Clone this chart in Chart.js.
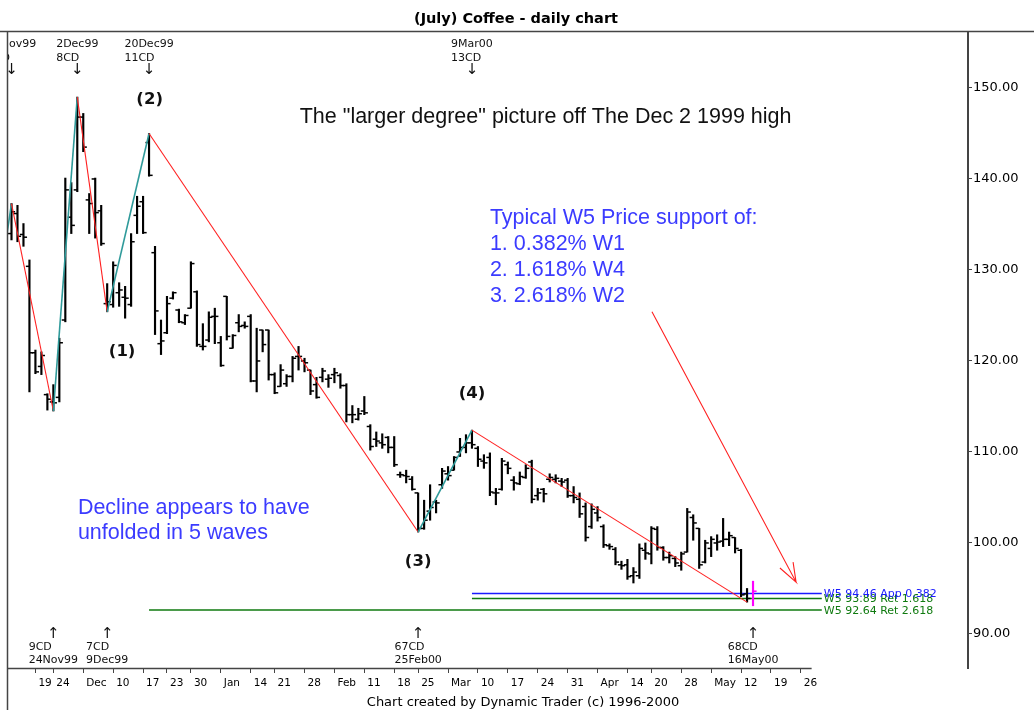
<!DOCTYPE html>
<html>
<head>
<meta charset="utf-8">
<script src="https://cdn.jsdelivr.net/npm/chart.js@4.4.0/dist/chart.umd.min.js"></script>
<style>
html, body { margin: 0; padding: 0; background: #fff; }
#wrap { width: 1034px; height: 710px; }
</style>
</head>
<body>
<div id="wrap"><canvas id="coffee" width="1034" height="710"></canvas></div>
<script>
// one entry per trading day, index 0 = 15 Nov 1999
var opens = [134.0,136.2,133.9,130.4,120.9,119.4,116.3,115.5,116.0,124.5,
  135.8,138.8,146.8,137.7,140.0,136.5,126.3,126.2,127.5,127.0,
  126.2,136.0,137.5,144.0,131.9,121.9,123.1,126.9,125.6,124.2,
  125.8,127.6,121.6,122.3,124.9,122.0,127.1,121.4,124.2,123.9,
  124.9,117.8,123.4,123.4,118.5,117.2,117.5,118.3,120.5,120.0,
  119.0,117.4,118.2,118.0,118.5,118.4,117.3,114.1,113.6,114.5,
  112.8,111.4,111.0,111.6,110.5,107.5,107.4,107.0,105.5,101.6,
  103.5,104.5,106.4,107.6,108.0,110.0,110.5,111.0,110.4,109.0,
  109.4,105.5,105.9,108.6,106.9,106.5,107.2,108.9,105.2,105.9,
  107.0,107.0,106.8,106.9,105.2,104.8,104.0,101.8,103.3,101.8,
  99.7,99.3,97.6,97.6,96.4,96.4,99.2,98.8,101.5,99.5,
  98.4,98.3,97.5,99.0,102.8,101.6,97.9,99.4,100.0,100.2,
  100.4,100.6,99.2,94.4];
var highs = [137.3,137.1,135.1,131.1,121.2,121.0,116.4,117.4,122.5,140.1,
  139.6,149.0,147.2,138.4,140.1,137.1,128.5,130.9,128.6,128.2,
  134.0,138.1,138.1,145.0,132.6,124.5,127.1,127.6,125.7,125.1,
  130.9,127.7,124.1,125.4,125.8,122.7,127.1,122.9,125.1,124.3,
  125.1,123.6,123.4,123.4,118.7,119.6,118.5,120.5,121.6,120.3,
  119.0,118.2,119.2,118.5,119.2,118.6,117.5,115.1,114.8,116.1,
  113.0,112.2,112.0,111.7,111.7,107.8,108.0,107.3,105.5,104.7,
  106.4,104.7,108.2,108.4,109.5,111.5,111.9,112.4,110.6,109.7,
  109.9,106.0,109.3,108.9,107.3,107.8,108.6,109.1,106.0,106.0,
  107.6,107.5,107.1,107.1,106.2,105.5,104.4,104.3,104.0,102.0,
  99.9,99.5,98.0,98.2,97.3,99.9,100.0,101.8,101.8,99.6,
  99.0,98.5,99.0,103.8,103.1,101.6,100.3,100.7,100.9,102.7,
  101.2,100.6,99.3,95.0];
var lows = [133.3,133.1,132.6,116.6,118.6,118.5,114.6,114.5,115.5,124.3,
  134.0,138.6,143.0,134.0,133.5,132.7,125.4,125.9,126.0,124.7,
  126.0,134.0,134.0,140.3,122.9,120.7,123.0,126.8,124.2,124.0,
  125.8,121.6,121.2,122.1,121.9,119.4,122.3,121.4,123.2,123.6,
  117.7,116.6,121.0,117.9,116.4,117.2,117.2,117.7,119.0,118.8,
  116.3,115.9,117.7,117.1,117.6,117.0,113.3,113.2,113.5,114.1,
  110.2,110.6,110.4,109.9,108.4,107.2,106.6,105.8,101.2,101.5,
  102.5,103.3,106.0,106.9,108.0,109.5,109.9,110.4,108.4,108.2,
  105.2,104.2,105.8,107.6,105.8,106.4,107.1,104.4,104.7,104.5,
  106.7,106.6,106.2,105.0,104.4,102.8,100.2,101.6,102.4,99.5,
  99.3,97.6,97.1,96.0,95.6,96.1,98.2,97.7,99.2,98.1,
  97.8,97.4,97.0,99.0,100.3,97.2,97.8,98.5,99.2,99.6,
  99.7,98.9,94.1,93.5];
var closes = [136.4,133.7,133.6,120.9,118.8,120.6,115.8,115.4,122.0,138.8,
  134.9,146.8,143.5,137.3,136.3,132.9,126.5,130.5,127.8,126.9,
  133.1,137.0,134.1,140.4,125.5,122.2,126.3,127.5,124.3,125.0,
  130.7,121.8,121.6,124.8,124.9,119.5,122.7,122.8,123.8,123.8,
  117.8,120.0,121.8,118.5,116.5,119.0,118.3,120.3,120.5,119.8,
  116.7,116.0,118.9,118.1,118.7,117.3,114.1,114.1,114.2,114.3,
  110.6,111.2,110.8,110.5,108.6,107.5,107.3,105.9,101.6,102.5,
  103.9,104.4,107.9,107.4,109.4,110.5,111.0,110.8,109.2,108.8,
  105.6,105.5,109.0,108.2,106.6,107.3,108.2,104.8,105.5,105.4,
  107.2,107.1,106.7,105.2,105.0,103.2,100.6,103.7,102.8,99.8,
  99.6,97.9,97.5,96.3,96.8,99.4,98.9,101.6,99.5,98.4,
  98.6,97.8,98.8,103.4,102.2,97.6,100.0,100.4,100.1,100.4,
  100.8,99.4,94.3,93.9];

// 16 May 2000, drawn in magenta
var lastDay = 124;
var lastHigh = 95.8;
var lastLow = 93.1;
var lastClose = 94.7;

// weekly ticks (trading-day index) and their labels
var tickDays = [4,7,12,17,22,26,30,35,40,44,49,54,59,64,68,73,78,83,88,93,98,103,107,112,117,122,127,132];
var tickNames = ["19","24","Dec","10","17","23","30","Jan","14","21","28","Feb","11","18","25","Mar",
  "10","17","24","31","Apr","14","20","28","May","12","19","26"];
var priceTicks = [90, 100, 110, 120, 130, 140, 150];

// wave pivots: day index, high or low
var pivotDays = [0, 7, 11, 16, 23, 68, 77, 123];
var pivotIsHigh = [true, false, true, false, true, false, true, false];
var waveNames = ["(1)", "(2)", "(3)", "(4)"];
var waveNameDays = [18.5, 23.1, 68, 77];
var waveNamePrices = [121.0, 148.7, 97.9, 116.4];

// W5 price targets
var targetNames = ["W5 94.46 App 0.382", "W5 93.89 Ret 1.618", "W5 92.64 Ret 2.618"];
var targetPrices = [94.46, 93.89, 92.64];
var targetFrom = [77, 77, 23];
var targetTo = 135.5;

// time-cycle labels
var topDays = [0, 11, 23, 77];
var topDates = ["15Nov99", "2Dec99", "20Dec99", "9Mar00"];
var topCounts = ["5CD", "8CD", "11CD", "13CD"];
var lowDays = [7, 16, 68, 124];
var lowDates = ["24Nov99", "9Dec99", "25Feb00", "16May00"];
var lowCounts = ["9CD", "7CD", "67CD", "68CD"];

var BLUE = '#3b3bff';
var GREEN = '#0f7a0f';

var waveLine = [{ x: -3, y: 124.0 }];
pivotDays.forEach(function (d, k) {
  waveLine.push({ x: d, y: pivotIsHigh[k] ? highs[d] : lows[d] });
});

var colors = ['#1a1aff', GREEN, GREEN];
var targetSets = targetPrices.map(function (p, k) {
  return {
    type: 'line', data: [{ x: targetFrom[k], y: p }, { x: targetTo, y: p }],
    borderColor: colors[k], borderWidth: 1.5, pointRadius: 0, order: 5
  };
});

var notes = [
  { text: 'The "larger degree" picture off The Dec 2 1999 high', x: 48.2, y: 146.8, color: '#111' },
  { text: 'Typical W5 Price support of:', x: 80.0, y: 135.7, color: BLUE },
  { text: '1. 0.382% W1', x: 80.0, y: 132.86, color: BLUE },
  { text: '2. 1.618% W4', x: 80.0, y: 130.0, color: BLUE },
  { text: '3. 2.618% W2', x: 80.0, y: 127.14, color: BLUE },
  { text: 'Decline appears to have', x: 11.1, y: 103.85, color: BLUE },
  { text: 'unfolded in 5 waves', x: 11.1, y: 101.1, color: BLUE }
];

var decor = {
  id: 'decor',
  beforeDraw: function (chart) {
    var c = chart.ctx;
    c.save();
    c.fillStyle = '#fff';
    c.fillRect(0, 0, chart.width, chart.height);
    c.restore();
  },
  afterDraw: function (chart) {
    var c = chart.ctx, a = chart.chartArea;
    var xs = chart.scales.x, ys = chart.scales.y;
    c.save();
    // frame
    c.strokeStyle = '#444';
    c.lineWidth = 1.5;
    c.beginPath();
    c.moveTo(0, a.top - 0.5); c.lineTo(chart.width, a.top - 0.5);
    c.moveTo(a.left - 0.5, a.top - 0.5); c.lineTo(a.left - 0.5, chart.height);
    c.moveTo(a.left - 1, a.bottom + 0.5); c.lineTo(xs.getPixelForValue(133.8), a.bottom + 0.5);
    c.stroke();

    c.fillStyle = '#000';
    c.textAlign = 'center';
    c.textBaseline = 'middle';
    c.font = 'bold 14.5px "DejaVu Sans"';
    c.fillText('(July) Coffee - daily chart', 516, 19);
    c.font = '13px "DejaVu Sans"';
    c.fillText('Chart created by Dynamic Trader (c) 1996-2000', 523, 703);

    c.beginPath();
    c.rect(a.left, a.top, a.right - a.left, a.bottom - a.top);
    c.clip();

    // notes
    c.textAlign = 'left';
    c.font = '21.5px "Liberation Sans"';
    notes.forEach(function (n) {
      c.fillStyle = n.color;
      c.fillText(n.text, xs.getPixelForValue(n.x), ys.getPixelForValue(n.y));
    });

    // wave numbers
    c.textAlign = 'center';
    c.fillStyle = '#111';
    c.font = 'bold 16.5px "DejaVu Sans"';
    waveNames.forEach(function (t, k) {
      c.fillText(t, xs.getPixelForValue(waveNameDays[k]), ys.getPixelForValue(waveNamePrices[k]));
    });

    // cycle labels
    var small = '11px "DejaVu Sans"';
    var arrow = '15px "DejaVu Sans"';
    c.font = small;
    c.textAlign = 'left';
    function cycle(day, date, count, up) {
      var px = xs.getPixelForValue(day);
      var w = c.measureText(date).width;
      var left = px - w / 2;
      if (up) {
        c.fillText(date, left, a.bottom - 8);
        c.fillText(count, left, a.bottom - 21);
        c.font = arrow;
        c.textAlign = 'center';
        c.fillText('\u2191', px, a.bottom - 34);
      } else {
        c.fillText(date, left, a.top + 12);
        c.fillText(count, left, a.top + 26);
        c.font = arrow;
        c.textAlign = 'center';
        c.fillText('\u2193', px, a.top + 38);
      }
      c.font = small;
      c.textAlign = 'left';
    }
    topDays.forEach(function (d, k) { cycle(d, topDates[k], topCounts[k], false); });
    lowDays.forEach(function (d, k) { cycle(d, lowDates[k], lowCounts[k], true); });

    // target labels (blue drawn last, on top)
    c.font = '11px "DejaVu Sans"';
    var lx = xs.getPixelForValue(targetTo) + 2;
    [1, 0, 2].forEach(function (k) {
      c.fillStyle = colors[k];
      c.fillText(targetNames[k], lx, ys.getPixelForValue(targetPrices[k]) + 1);
    });
    c.restore();
  }
};

Chart.defaults.font.family = '"DejaVu Sans"';
Chart.defaults.color = '#000';

new Chart(document.getElementById('coffee'), {
  type: 'bar',
  data: {
    datasets: [
      {
        type: 'bar',
        data: highs.map(function (h, i) { return { x: i, y: [lows[i], h] }; }),
        backgroundColor: '#000', barThickness: 1.5, grouped: false, order: 1
      },
      {
        type: 'scatter',
        data: opens.map(function (o, i) { return { x: i - 0.3, y: o }; }),
        pointStyle: 'line', pointRadius: 1.8, borderColor: '#000', borderWidth: 1.5, order: 1
      },
      {
        type: 'scatter',
        data: closes.map(function (v, i) { return { x: i + 0.3, y: v }; }),
        pointStyle: 'line', pointRadius: 1.8, borderColor: '#000', borderWidth: 1.5, order: 1
      },
      {
        type: 'bar',
        data: [{ x: lastDay, y: [lastLow, lastHigh] }],
        backgroundColor: '#ff00ff', barThickness: 1.5, grouped: false, order: 1
      },
      {
        type: 'scatter',
        data: [{ x: lastDay + 0.3, y: lastClose }],
        pointStyle: 'line', pointRadius: 1.8, borderColor: '#ff00ff', borderWidth: 1.5, order: 1
      },
      {
        type: 'line',
        data: waveLine,
        borderWidth: 1.2, pointRadius: 0, tension: 0, order: 0,
        borderColor: '#ff2020',
        segment: {
          borderColor: function (ctx) { return ctx.p1.parsed.y < ctx.p0.parsed.y ? '#ff2020' : '#2f9a9a'; },
          borderWidth: function (ctx) { return ctx.p1.parsed.y < ctx.p0.parsed.y ? 1.1 : 1.6; }
        }
      },
      {
        type: 'line',
        data: [{ x: 107.1, y: 125.4 }, { x: 131.2, y: 95.7 }, { x: 128.5, y: 97.25 },
          { x: 129, y: null }, { x: 131.2, y: 95.7 }, { x: 130.7, y: 97.9 }],
        borderColor: '#ff2020', borderWidth: 1.1, pointRadius: 0, spanGaps: false, order: 0
      }
    ].concat(targetSets)
  },
  options: {
    responsive: false,
    devicePixelRatio: 1,
    animation: false,
    events: [],
    layout: { padding: { top: 32, left: 8, right: 0, bottom: 0 } },
    plugins: { legend: { display: false }, tooltip: { enabled: false }, title: { display: false } },
    scales: {
      x: {
        type: 'linear', min: -0.585, max: 159.95, offset: false,
        border: { display: false },
        grid: { display: true, drawOnChartArea: false, drawTicks: true, tickLength: 5, color: '#444', offset: false },
        afterBuildTicks: function (s) { s.ticks = tickDays.map(function (d) { return { value: d }; }); },
        afterFit: function (s) { s.height = 42; },
        ticks: {
          autoSkip: false, maxRotation: 0, minRotation: 0, align: 'start', labelOffset: 3, padding: 4,
          font: { size: 10.5 }, color: '#000',
          callback: function (v, i) { return tickNames[i]; }
        }
      },
      y: {
        type: 'linear', position: 'right', min: 86.26, max: 156.15,
        border: { display: true, color: '#444', width: 2 },
        grid: { display: true, drawOnChartArea: false, drawTicks: true, tickLength: 4, color: '#444' },
        afterBuildTicks: function (s) { s.ticks = priceTicks.map(function (v) { return { value: v }; }); },
        afterFit: function (s) { s.width = 66; },
        ticks: {
          padding: 1, font: { size: 13 }, color: '#000',
          callback: function (v) { return Number(v).toFixed(2); }
        }
      }
    }
  },
  plugins: [decor]
});
</script>
</body>
</html>
